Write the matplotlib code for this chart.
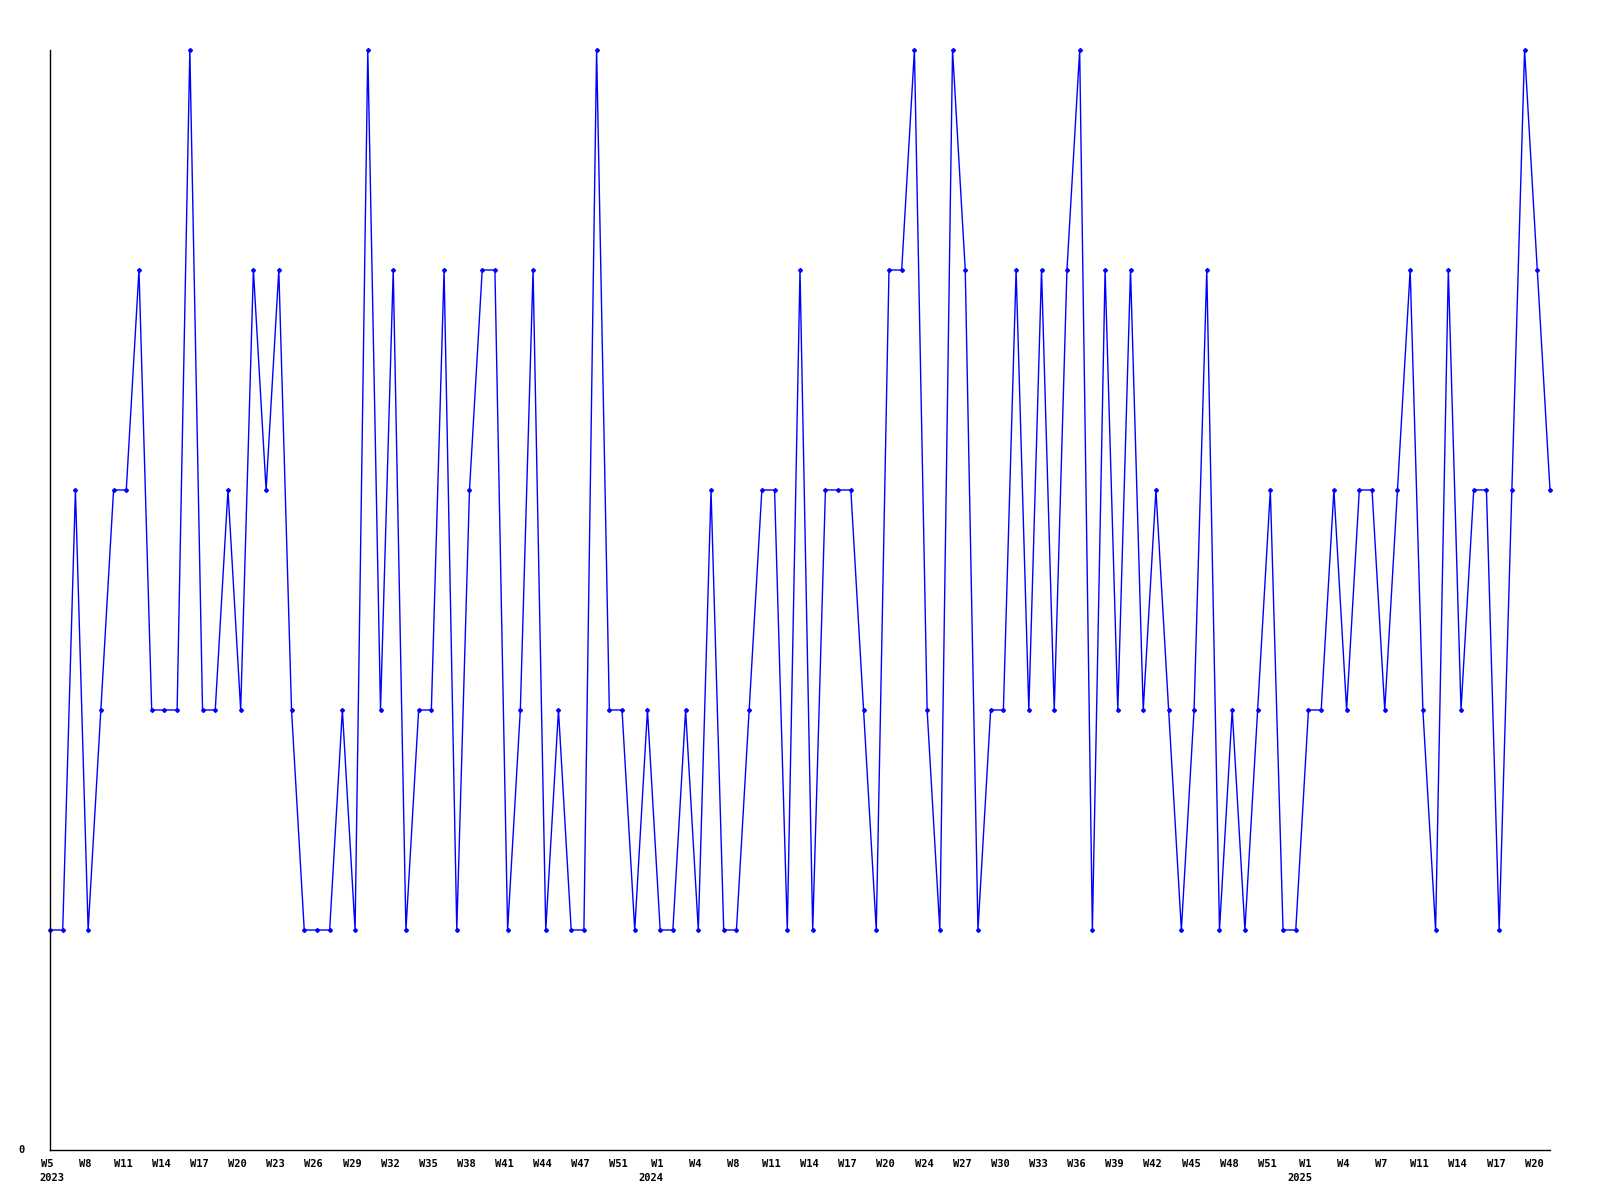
import matplotlib
matplotlib.use("Agg")
import matplotlib.pyplot as plt

# Weekly values (W5 2023 ... 2025)
values = [1, 1, 3, 1, 2, 3, 3, 4, 2, 2, 2, 5, 2, 2, 3, 2, 4, 3, 4, 2,
          1, 1, 1, 2, 1, 5, 2, 4, 1, 2, 2, 4, 1, 3, 4, 4, 1, 2, 4, 1,
          2, 1, 1, 5, 2, 2, 1, 2, 1, 1, 2, 1, 3, 1, 1, 2, 3, 3, 1, 4,
          1, 3, 3, 3, 2, 1, 4, 4, 5, 2, 1, 5, 4, 1, 2, 2, 4, 2, 4, 2,
          4, 5, 1, 4, 2, 4, 2, 3, 2, 1, 2, 4, 1, 2, 1, 2, 3, 1, 1, 2,
          2, 3, 2, 3, 3, 2, 3, 4, 2, 1, 4, 2, 3, 3, 1, 3, 5, 4, 3]

week_labels = ["W5", "W8", "W11", "W14", "W17", "W20", "W23", "W26", "W29", "W32",
               "W35", "W38", "W41", "W44", "W47", "W51", "W1", "W4", "W8", "W11",
               "W14", "W17", "W20", "W24", "W27", "W30", "W33", "W36", "W39", "W42",
               "W45", "W48", "W51", "W1", "W4", "W7", "W11", "W14", "W17", "W20"]
year_labels = {0: "2023", 16: "2024", 33: "2025"}
label_step = 3

fig = plt.figure(figsize=(16, 12), dpi=100)
ax = fig.add_axes([50 / 1600, 50 / 1200, 1500 / 1600, 1100 / 1200])

x = list(range(len(values)))
ax.plot(x, values, color="#0000ff", linewidth=1.0, marker="D", markersize=2.0,
        markerfacecolor="#0000ff", markeredgecolor="#0000ff", clip_on=False)

ax.set_xlim(0, len(values) - 1)
ax.set_ylim(0, 5)

for s in ("top", "right"):
    ax.spines[s].set_visible(False)
for s in ("left", "bottom"):
    ax.spines[s].set_color("black")
    ax.spines[s].set_linewidth(1.0)

ax.set_xticks([])
ax.set_yticks([])

font = dict(family="DejaVu Sans Mono", fontweight="bold", fontsize=7.5, color="black")
trans = ax.get_xaxis_transform()
for i, lab in enumerate(week_labels):
    xi = i * label_step - 0.25
    ax.text(xi, -0.008, lab, transform=trans, ha="center", va="top", **font)
    if i in year_labels:
        if i == 0:
            ax.text(xi - 0.6, -0.0205, year_labels[i], transform=trans,
                    ha="left", va="top", **font)
        else:
            ax.text(xi - 0.45, -0.0205, year_labels[i], transform=trans,
                    ha="center", va="top", **font)

ax.text(-25 / 1500, 0, "0", transform=ax.transAxes, ha="right", va="center", **font)

fig.savefig("out.png", dpi=100, facecolor="white")
